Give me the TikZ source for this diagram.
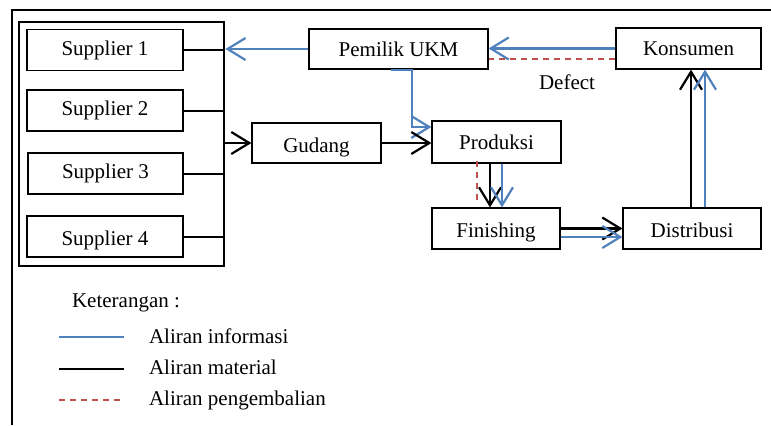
\documentclass[tikz,border=0pt]{standalone}
\usepackage{fontspec}
\setmainfont{Liberation Serif}
\usetikzlibrary{arrows.meta,calc}
\definecolor{infoblue}{HTML}{4F81BD}
\definecolor{retred}{HTML}{C0504D}
\begin{document}
\begin{tikzpicture}[x=0.5pt,y=-0.5pt,
  font=\fontsize{10.5}{12}\selectfont,
  box/.style={draw,line width=0.6pt,inner sep=0pt,minimum height=20.5pt},
  low/.style={text height=9pt,text depth=0pt},
  tip/.style={-{Straight Barb[length=9pt,width=11pt,line width=1.1pt]}},
  info/.style={infoblue,line width=1.1pt,tip},
  mat/.style={black,line width=1.1pt,tip},
  ret/.style={retred,line width=0.6pt,dash pattern=on 3pt off 2.5pt},
  plain/.style={black,line width=1pt}]
\useasboundingbox (0,0) rectangle (771,425);
% outer frame
\draw[line width=0.9pt] (771,10) -- (12,10) -- (12,425);
% inner supplier frame
\node[draw,line width=1.4pt,minimum width=102.5pt,minimum height=122pt,inner sep=0pt] (frame) at (121.5,144) {};
\node[box,minimum width=78pt] (s1) at (105,50) {Supplier 1};
\node[box,minimum width=78pt] (s2) at (105,110.5) {Supplier 2};
\node[box,minimum width=77.5pt] (s3) at (105.5,173.5) {Supplier 3};
\node[box,low,minimum width=78pt] (s4) at (105,236.5) {Supplier 4};
\foreach \s in {s1,s2,s3,s4} \draw[plain] (\s.east) -- (\s.east -| frame.east);
% process nodes
\node[box,low,minimum width=64.5pt,minimum height=20pt] (gud) at (316.5,143) {Gudang};
\node[box,minimum width=89.5pt,minimum height=20pt] (pem) at (398.5,49) {Pemilik UKM};
\node[box,minimum width=64.5pt,minimum height=21pt] (prod) at (496.5,142) {Produksi};
\node[box,minimum width=72.5pt] (kon) at (688.5,48.5) {Konsumen};
\node[box,low,minimum width=64pt] (fin) at (496,228.5) {Finishing};
\node[box,low,minimum width=69pt] (dist) at (692,228.5) {Distribusi};
% connectors
\draw[mat] (frame.east |- gud.west) -- (gud.west);
\draw[info] (pem.west) -- (pem.west -| frame.east);
\draw[info] ($(pem.south)+(-7.5,0)$) -- ++(21,0) |- ($(prod.west)+(0,-15)$);
\draw[mat] (gud.east) -- (gud.east -| prod.west);
\draw[info] (kon.west) -- (kon.west -| pem.east);
\draw[ret] ($(kon.west)+(0,10.5)$) coordinate (ka) -- (ka -| pem.east);
\node (defect) at (567,82) {Defect};
\draw[ret] ($(prod.south)+(-19.5,-3)$) coordinate (pa) -- ($(pa |- fin.north)+(0,-5)$);
\draw[mat] ($(prod.south)+(-6.5,0)$) coordinate (pb) -- (pb |- fin.north);
\draw[info] ($(prod.south)+(5.5,0)$) coordinate (pc) -- (pc |- fin.north);
\draw[mat] (fin.east) -- (fin.east -| dist.west);
\draw[info] ($(fin.east)+(0,8.5)$) coordinate (fa) -- (fa -| dist.west);
\draw[mat] ($(dist.north)+(-1,0)$) coordinate (da) -- (da |- kon.south);
\draw[info] ($(dist.north)+(13,0)$) coordinate (db) -- (db |- kon.south);
% legend
\node[anchor=west] (ket) at (65,303) {Keterangan :};
\coordinate (l1a) at (59,337); \coordinate (l1b) at (124,337);
\coordinate (l2a) at (59,369); \coordinate (l2b) at (124,369);
\coordinate (l3a) at (59,400); \coordinate (l3b) at (121,400);
\draw[infoblue,line width=0.8pt] (l1a) -- (l1b);
\draw[black,line width=1pt] (l2a) -- (l2b);
\draw[ret] (l3a) -- (l3b);
\node[anchor=west] (t1) at (142,336) {Aliran informasi};
\node[anchor=west] (t2) at (142,367) {Aliran material};
\node[anchor=west] (t3) at (142,400) {Aliran pengembalian};
\end{tikzpicture}
\end{document}
